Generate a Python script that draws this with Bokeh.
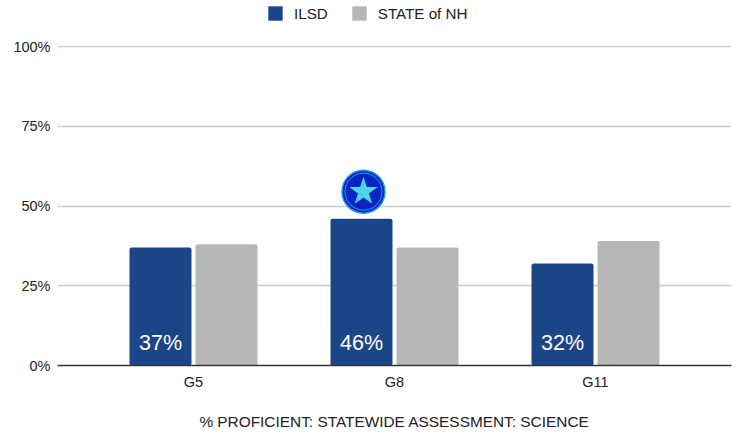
from bokeh.plotting import figure
from bokeh.layouts import column
from bokeh.models import ColumnDataSource, FactorRange, Legend, LegendItem, PrintfTickFormatter, FixedTicker, Range1d
from bokeh.transform import dodge
from bokeh.core.properties import value
from bokeh.embed import file_html
from bokeh.resources import INLINE

grades = ["G5", "G8", "G11"]
ilsd = [37, 46, 32]
state = [38, 37, 39]
labels = ["37%", "46%", "32%"]
series_names = ["ILSD", "STATE of NH"]
y_ticks = [0, 25, 50, 75, 100]
badge_grade = ["G8"]
badge_level = [54.5]
xlabel = "% PROFICIENT: STATEWIDE ASSESSMENT: SCIENCE"
FONT = "Liberation Sans"
NAVY = "#1c4587"
GRAY = "#b7b7b7"

src = ColumnDataSource(dict(g=grades, ilsd=ilsd, state=state, labels=labels, base=[0, 0, 0]))
badge = ColumnDataSource(dict(g=badge_grade, y=badge_level))

p = figure(width=732, height=407, x_range=FactorRange(factors=grades, range_padding=0.1177),
           y_range=Range1d(0, 100.32), output_backend="svg", toolbar_location=None,
           min_border_left=57, min_border_right=1, min_border_top=20, min_border_bottom=67,
           outline_line_color=None)

w = 62 / 201
off = 33 / 201
p.vbar(x=dodge("g", -off, range=p.x_range), top="ilsd", width=w, source=src,
       fill_color=NAVY, line_color=None, border_radius=2)
p.vbar(x=dodge("g", off, range=p.x_range), top="state", width=w, source=src,
       fill_color=GRAY, line_color=None, border_radius=2)

p.text(x=dodge("g", -off, range=p.x_range), y="base", text="labels", source=src,
       text_color="#ffffff", text_font=value(FONT), text_font_size="21.5px",
       text_align="center", text_baseline="bottom", y_offset=-11)

bx = dodge("g", -off + 2 / 201, range=p.x_range)
p.scatter(x=bx, y="y", source=badge, marker="circle", size=43, fill_color="#0a24c4",
          line_color="#1e9be8", line_width=1.5)
p.scatter(x=bx, y="y", source=badge, marker="circle", size=37, fill_color=None,
          line_color="#1fa2ea", line_width=1)
p.scatter(x=bx, y="y", source=badge, marker="star", size=30, fill_color="#4fd3ee",
          line_color=None)

p.xaxis.axis_label = xlabel
p.xaxis.axis_label_text_font = FONT
p.xaxis.axis_label_text_font_size = "15.4px"
p.xaxis.axis_label_text_font_style = "normal"
p.xaxis.axis_label_text_color = "#222222"
p.xaxis.axis_label_standoff = 20
p.xaxis.major_label_text_font = FONT
p.xaxis.major_label_text_font_size = "14.5px"
p.xaxis.major_label_text_color = "#222222"
p.xaxis.major_label_standoff = 8
p.xaxis.major_tick_line_color = None
p.xaxis.minor_tick_line_color = None
p.xaxis.major_tick_out = 0
p.xaxis.major_tick_in = 0
p.xaxis.axis_line_color = "#333333"
p.xaxis.axis_line_width = 1.3
p.xgrid.grid_line_color = None

p.yaxis.ticker = FixedTicker(ticks=y_ticks)
p.yaxis.formatter = PrintfTickFormatter(format="%d%%")
p.yaxis.major_label_text_font = FONT
p.yaxis.major_label_text_font_size = "14.5px"
p.yaxis.major_label_text_color = "#222222"
p.yaxis.major_label_standoff = 7
p.yaxis.major_tick_line_color = None
p.yaxis.minor_tick_line_color = None
p.yaxis.major_tick_out = 0
p.yaxis.major_tick_in = 0
p.yaxis.axis_line_color = None
p.ygrid.grid_line_color = "#cccccc"
p.ygrid.grid_line_width = 1.3

# Legend strip sits in its own small figure above the chart, because the
# legend is clipped to the plot frame under the SVG backend.
lf = figure(width=732, height=25, x_range=Range1d(0, 1), y_range=Range1d(0, 1),
            output_backend="svg", toolbar_location=None, outline_line_color=None,
            min_border=0, min_border_left=0, min_border_right=0, min_border_top=0, min_border_bottom=0,
            x_axis_location=None, y_axis_location=None)
lf.grid.visible = False
nan = float("nan")
k1 = lf.vbar(x=[nan], top=[nan], width=0.1, fill_color=NAVY, line_color=None)
k2 = lf.vbar(x=[nan], top=[nan], width=0.1, fill_color=GRAY, line_color=None)
legend = Legend(items=[LegendItem(label=series_names[0], renderers=[k1]),
                       LegendItem(label=series_names[1], renderers=[k2])],
                orientation="horizontal", location=(209, 3), border_line_color=None,
                background_fill_color=None, glyph_width=18, glyph_height=18, label_standoff=10,
                spacing=22, padding=0, margin=0, label_text_font=FONT, label_text_font_size="15.2px",
                label_text_color="#222222")
lf.add_layout(legend)

page = column(lf, p, spacing=0)
open("out.html", "w").write(file_html(page, INLINE))
